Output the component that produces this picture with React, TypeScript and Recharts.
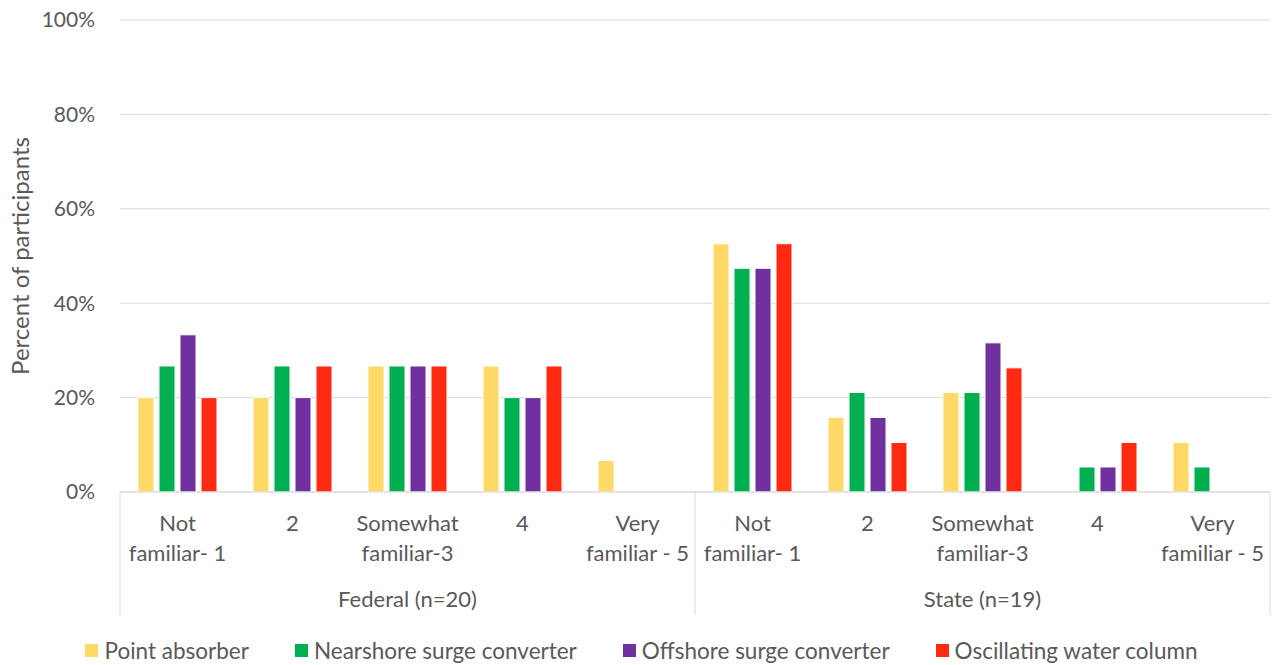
import { BarChart, Bar, XAxis, YAxis, CartesianGrid, Legend } from "recharts";

// familiarity with wave energy technologies, % of participants
const groups = ["Federal (n=20)", "State (n=19)"];
const levels = ["Not familiar- 1", "2", "Somewhat familiar-3", "4", "Very familiar - 5"];

const pointAbsorber = [20, 20, 26.7, 26.7, 6.7, 52.6, 15.8, 21.1, 0, 10.5];
const nearshoreSurge = [26.7, 26.7, 26.7, 20, 0, 47.4, 21.1, 21.1, 5.3, 5.3];
const offshoreSurge = [33.3, 20, 26.7, 20, 0, 47.4, 15.8, 31.6, 5.3, 0];
const oscillatingColumn = [20, 26.7, 26.7, 26.7, 0, 52.6, 10.5, 26.3, 10.5, 0];

const yTicks = [0, 20, 40, 60, 80, 100];

const series = [
  { key: "pa", name: "Point absorber", color: "#FFD966", values: pointAbsorber },
  { key: "nsc", name: "Nearshore surge converter", color: "#00B050", values: nearshoreSurge },
  { key: "osc", name: "Offshore surge converter", color: "#7030A0", values: offshoreSurge },
  { key: "owc", name: "Oscillating water column", color: "#FF2A12", values: oscillatingColumn },
];

const rows = groups.flatMap((group, g) =>
  levels.map((label, l) => {
    const i = g * levels.length + l;
    const row: Record<string, string | number> = { label, group };
    series.forEach((s) => (row[s.key] = s.values[i]));
    return row;
  })
);

const W = 1283;
const H = 665;
const MARGIN = { top: 20, right: 13, left: 0, bottom: 0 };
const Y_W = 120;
const X_H = 123;
const BAND = (W - MARGIN.left - MARGIN.right - Y_W) / rows.length;

const TEXT = "#595959";
const GRID = "#D9D9D9";
const FS_X = 22;
const FS_Y = 21;
const FS_TITLE = 24;
const FS_LEGEND = 22.5;

function CategoryTick(props: any) {
  const { x, y, payload, index } = props;
  const text: string = payload.value;
  const sp = text.indexOf(" ");
  const lines = sp > 0 ? [text.slice(0, sp), text.slice(sp + 1)] : [text];
  const n = levels.length;
  const pos = index % n;
  return (
    <g>
      {lines.map((t, k) => (
        <text key={k} x={x} y={y + 39 + k * 30} textAnchor="middle" fill={TEXT} fontSize={FS_X}>
          {t}
        </text>
      ))}
      {pos === Math.floor(n / 2) && (
        <text x={x + (n % 2 ? 0 : BAND / 2)} y={y + 115} textAnchor="middle" fill={TEXT} fontSize={FS_X}>
          {groups[Math.floor(index / n)]}
        </text>
      )}
      {pos === 0 && <line x1={x - BAND / 2} x2={x - BAND / 2} y1={y} y2={y + X_H} stroke={GRID} />}
      {index === rows.length - 1 && (
        <line x1={x + BAND / 2} x2={x + BAND / 2} y1={y} y2={y + X_H} stroke={GRID} />
      )}
    </g>
  );
}

function YTitle(props: any) {
  const vb = props.viewBox;
  const cx = vb.x + 29;
  const cy = vb.y + vb.height / 2;
  return (
    <text x={cx} y={cy} transform={`rotate(-90 ${cx} ${cy})`} textAnchor="middle" fill={TEXT} fontSize={FS_TITLE}>
      Percent of participants
    </text>
  );
}

function LegendBox() {
  return (
    <div
      style={{
        height: 50,
        boxSizing: "border-box",
        paddingTop: 20,
        display: "flex",
        justifyContent: "center",
        alignItems: "center",
        gap: 46,
        fontSize: FS_LEGEND,
        color: TEXT,
      }}
    >
      {series.map((s) => (
        <div key={s.key} style={{ display: "flex", alignItems: "center" }}>
          <span style={{ width: 13, height: 13, background: s.color, marginRight: 6, display: "inline-block" }} />
          <span>{s.name}</span>
        </div>
      ))}
    </div>
  );
}

export default function App() {
  return (
    <div style={{ position: "absolute", left: 0, top: 0, fontFamily: "Lato, sans-serif" }}>
      <BarChart width={W} height={H} data={rows} margin={MARGIN} barCategoryGap={18} barGap={5}>
        <CartesianGrid vertical={false} stroke={GRID} />
        <XAxis
          dataKey="label"
          interval={0}
          height={X_H}
          tickSize={0}
          tickMargin={0}
          tickLine={false}
          axisLine={{ stroke: GRID }}
          tick={<CategoryTick />}
        />
        <YAxis
          type="number"
          domain={[0, 100]}
          ticks={yTicks}
          width={Y_W}
          tickSize={0}
          tickMargin={25}
          axisLine={false}
          tickLine={false}
          tickFormatter={(v) => `${v}%`}
          tick={{ fill: TEXT, fontSize: FS_Y }}
          label={{ content: <YTitle /> }}
        />
        <Legend
          verticalAlign="bottom"
          content={<LegendBox />}
          wrapperStyle={{ left: 0, width: W }}
        />
        {series.map((s) => (
          <Bar
            key={s.key}
            dataKey={s.key}
            name={s.name}
            fill={s.color}
            stroke="#FFFFFF"
            strokeWidth={1}
            isAnimationActive={false}
          />
        ))}
      </BarChart>
    </div>
  );
}
